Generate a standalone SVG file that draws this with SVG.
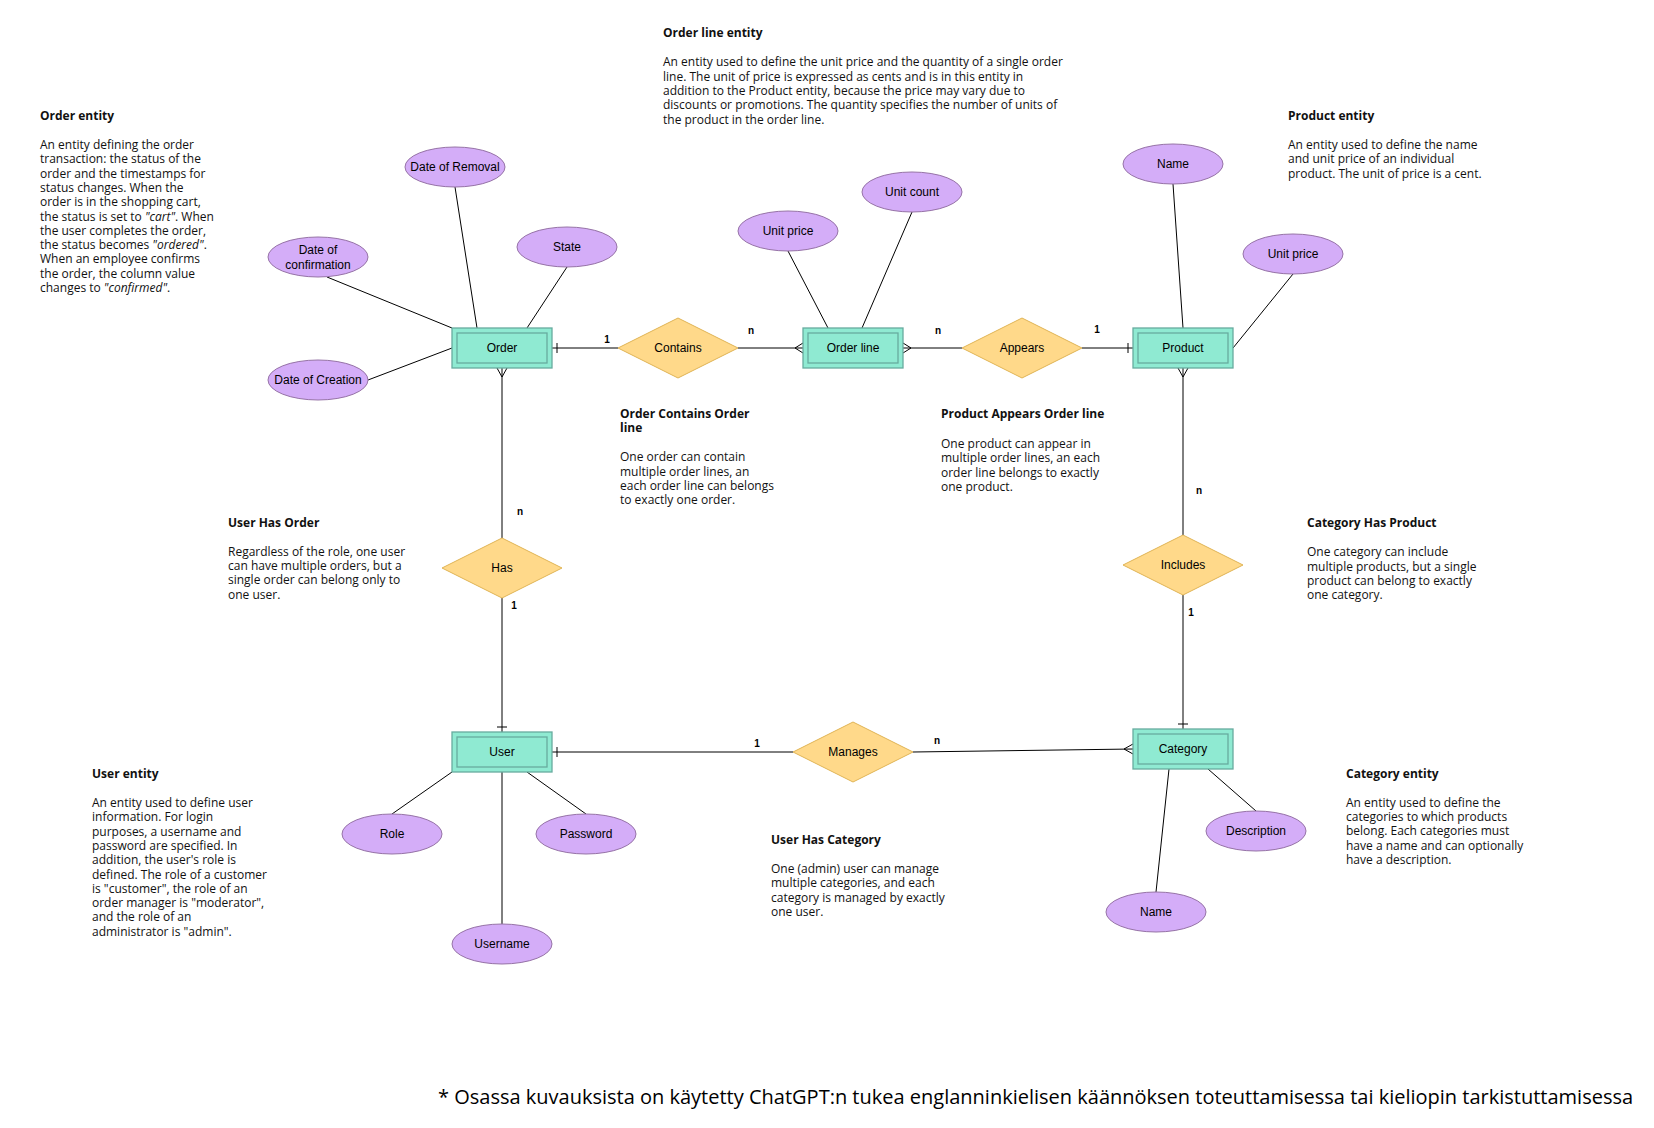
<svg xmlns="http://www.w3.org/2000/svg" width="1654" height="1128" viewBox="0 0 1654 1128">
<style>
.ent{fill:#8fead2;stroke:#67ab9f;stroke-width:1.3}
.att{fill:#d4adf8;stroke:#9673a6;stroke-width:1}
.rel{fill:#ffd98a;stroke:#e0b455;stroke-width:1}
.lbl{font-family:"Liberation Sans",Arial,sans-serif;font-size:12px;fill:#000;text-anchor:middle}
.card{font-family:"Liberation Sans",Arial,sans-serif;font-size:10px;font-weight:bold;fill:#000;text-anchor:middle}
.p{font-family:"Open Sans","Noto Sans",sans-serif;font-size:12px;fill:#111}
.t{font-weight:bold}
.i{font-style:italic}
#connectors line,#connectors path{stroke:#000;stroke-width:1;fill:none}
</style>
<rect width="1654" height="1128" fill="#fff"/>
<g id="connectors">
<!-- attribute links -->
<line x1="455" y1="187" x2="477" y2="328"/>
<line x1="327" y1="277" x2="452" y2="328"/>
<line x1="368" y1="380" x2="452" y2="348"/>
<line x1="567" y1="267" x2="527" y2="328"/>
<line x1="788" y1="251" x2="828" y2="328"/>
<line x1="912" y1="212" x2="862" y2="328"/>
<line x1="1173" y1="184" x2="1183" y2="328"/>
<line x1="1293" y1="274" x2="1233" y2="348"/>
<line x1="392" y1="814" x2="452" y2="772"/>
<line x1="527" y1="772" x2="586" y2="814"/>
<line x1="502" y1="772" x2="502" y2="924"/>
<line x1="1208" y1="769" x2="1256" y2="811"/>
<line x1="1169" y1="769" x2="1156" y2="892"/>
<!-- relationships -->
<line x1="552" y1="348" x2="618" y2="348"/>
<line x1="557" y1="343" x2="557" y2="353"/>
<line x1="738" y1="348" x2="803" y2="348"/>
<path d="M803,343 L795,348 L803,353"/>
<line x1="903" y1="348" x2="962" y2="348"/>
<path d="M903,343 L911,348 L903,353"/>
<line x1="1082" y1="348" x2="1133" y2="348"/>
<line x1="1128" y1="343" x2="1128" y2="353"/>
<line x1="502" y1="368" x2="502" y2="538"/>
<path d="M497,368 L502,377 L507,368"/>
<line x1="502" y1="598" x2="502" y2="732"/>
<line x1="497" y1="727" x2="507" y2="727"/>
<line x1="1183" y1="368" x2="1183" y2="535"/>
<path d="M1178,368 L1183,377 L1188,368"/>
<line x1="1183" y1="595" x2="1183" y2="729"/>
<line x1="1178" y1="724" x2="1188" y2="724"/>
<line x1="552" y1="752" x2="793" y2="752"/>
<line x1="557" y1="747" x2="557" y2="757"/>
<line x1="913" y1="752" x2="1133" y2="749"/>
<path d="M1133,744 L1124,749 L1133,754"/>
<!-- cardinalities -->
<text class="card" x="607" y="343">1</text>
<text class="card" x="751" y="334">n</text>
<text class="card" x="938" y="334">n</text>
<text class="card" x="1097" y="333">1</text>
<text class="card" x="520" y="515">n</text>
<text class="card" x="514" y="609">1</text>
<text class="card" x="1199" y="494">n</text>
<text class="card" x="1191" y="616">1</text>
<text class="card" x="757" y="747">1</text>
<text class="card" x="937" y="744">n</text>
</g>
<!-- entities -->
<g id="order"><rect class="ent" x="452" y="328" width="100" height="40"/><rect class="ent" x="457" y="333" width="90" height="30"/><text class="lbl" x="502" y="352">Order</text></g>
<g id="orderline"><rect class="ent" x="803" y="328" width="100" height="40"/><rect class="ent" x="808" y="333" width="90" height="30"/><text class="lbl" x="853" y="352">Order line</text></g>
<g id="product"><rect class="ent" x="1133" y="328" width="100" height="40"/><rect class="ent" x="1138" y="333" width="90" height="30"/><text class="lbl" x="1183" y="352">Product</text></g>
<g id="user"><rect class="ent" x="452" y="732" width="100" height="40"/><rect class="ent" x="457" y="737" width="90" height="30"/><text class="lbl" x="502" y="756">User</text></g>
<g id="category"><rect class="ent" x="1133" y="729" width="100" height="40"/><rect class="ent" x="1138" y="734" width="90" height="30"/><text class="lbl" x="1183" y="753">Category</text></g>
<!-- relationships -->
<g id="contains"><polygon class="rel" points="618,348 678,318 738,348 678,378"/><text class="lbl" x="678" y="352">Contains</text></g>
<g id="appears"><polygon class="rel" points="962,348 1022,318 1082,348 1022,378"/><text class="lbl" x="1022" y="352">Appears</text></g>
<g id="has"><polygon class="rel" points="442,568 502,538 562,568 502,598"/><text class="lbl" x="502" y="572">Has</text></g>
<g id="includes"><polygon class="rel" points="1123,565 1183,535 1243,565 1183,595"/><text class="lbl" x="1183" y="569">Includes</text></g>
<g id="manages"><polygon class="rel" points="793,752 853,722 913,752 853,782"/><text class="lbl" x="853" y="756">Manages</text></g>
<!-- attributes -->
<g id="att-removal"><ellipse class="att" cx="455" cy="167" rx="50" ry="20"/><text class="lbl" x="455" y="171">Date of Removal</text></g>
<g id="att-confirmation"><ellipse class="att" cx="318" cy="257" rx="50" ry="20"/><text class="lbl" x="318" y="253.5">Date of</text><text class="lbl" x="318" y="269">confirmation</text></g>
<g id="att-state"><ellipse class="att" cx="567" cy="247" rx="50" ry="20"/><text class="lbl" x="567" y="251">State</text></g>
<g id="att-creation"><ellipse class="att" cx="318" cy="380" rx="50" ry="20"/><text class="lbl" x="318" y="384">Date of Creation</text></g>
<g id="att-ol-unitprice"><ellipse class="att" cx="788" cy="231" rx="50" ry="20"/><text class="lbl" x="788" y="235">Unit price</text></g>
<g id="att-unitcount"><ellipse class="att" cx="912" cy="192" rx="50" ry="20"/><text class="lbl" x="912" y="196">Unit count</text></g>
<g id="att-p-name"><ellipse class="att" cx="1173" cy="164" rx="50" ry="20"/><text class="lbl" x="1173" y="168">Name</text></g>
<g id="att-p-unitprice"><ellipse class="att" cx="1293" cy="254" rx="50" ry="20"/><text class="lbl" x="1293" y="258">Unit price</text></g>
<g id="att-role"><ellipse class="att" cx="392" cy="834" rx="50" ry="20"/><text class="lbl" x="392" y="838">Role</text></g>
<g id="att-password"><ellipse class="att" cx="586" cy="834" rx="50" ry="20"/><text class="lbl" x="586" y="838">Password</text></g>
<g id="att-username"><ellipse class="att" cx="502" cy="944" rx="50" ry="20"/><text class="lbl" x="502" y="948">Username</text></g>
<g id="att-description"><ellipse class="att" cx="1256" cy="831" rx="50" ry="20"/><text class="lbl" x="1256" y="835">Description</text></g>
<g id="att-c-name"><ellipse class="att" cx="1156" cy="912" rx="50" ry="20"/><text class="lbl" x="1156" y="916">Name</text></g>
<!-- annotations -->
<g id="note-order">
<text class="p t" x="40" y="120">Order entity</text>
<text class="p" x="40" y="149">
<tspan x="40" y="149">An entity defining the order</tspan>
<tspan x="40" dy="14.3">transaction: the status of the</tspan>
<tspan x="40" dy="14.3">order and the timestamps for</tspan>
<tspan x="40" dy="14.3">status changes. When the</tspan>
<tspan x="40" dy="14.3">order is in the shopping cart,</tspan>
<tspan x="40" dy="14.3">the status is set to <tspan class="i">"cart"</tspan>. When</tspan>
<tspan x="40" dy="14.3">the user completes the order,</tspan>
<tspan x="40" dy="14.3">the status becomes <tspan class="i">"ordered"</tspan>.</tspan>
<tspan x="40" dy="14.3">When an employee confirms</tspan>
<tspan x="40" dy="14.3">the order, the column value</tspan>
<tspan x="40" dy="14.3">changes to <tspan class="i">"confirmed"</tspan>.</tspan>
</text>
</g>
<g id="note-orderline">
<text class="p t" x="663" y="37.3">Order line entity</text>
<text class="p">
<tspan x="663" y="66.3">An entity used to define the unit price and the quantity of a single order</tspan>
<tspan x="663" dy="14.3">line. The unit of price is expressed as cents and is in this entity in</tspan>
<tspan x="663" dy="14.3">addition to the Product entity, because the price may vary due to</tspan>
<tspan x="663" dy="14.3">discounts or promotions. The quantity specifies the number of units of</tspan>
<tspan x="663" dy="14.3">the product in the order line.</tspan>
</text>
</g>
<g id="note-product">
<text class="p t" x="1288" y="120">Product entity</text>
<text class="p">
<tspan x="1288" y="149">An entity used to define the name</tspan>
<tspan x="1288" dy="14.3">and unit price of an individual</tspan>
<tspan x="1288" dy="14.3">product. The unit of price is a cent.</tspan>
</text>
</g>
<g id="note-contains">
<text class="p t"><tspan x="620" y="418">Order Contains Order</tspan><tspan x="620" dy="14">line</tspan></text>
<text class="p">
<tspan x="620" y="461.3">One order can contain</tspan>
<tspan x="620" dy="14.3">multiple order lines, an</tspan>
<tspan x="620" dy="14.3">each order line can belongs</tspan>
<tspan x="620" dy="14.3">to exactly one order.</tspan>
</text>
</g>
<g id="note-appears">
<text class="p t" x="941" y="418.3">Product Appears Order line</text>
<text class="p">
<tspan x="941" y="448">One product can appear in</tspan>
<tspan x="941" dy="14.3">multiple order lines, an each</tspan>
<tspan x="941" dy="14.3">order line belongs to exactly</tspan>
<tspan x="941" dy="14.3">one product.</tspan>
</text>
</g>
<g id="note-has">
<text class="p t" x="228" y="526.7">User Has Order</text>
<text class="p">
<tspan x="228" y="555.7">Regardless of the role, one user</tspan>
<tspan x="228" dy="14.3">can have multiple orders, but a</tspan>
<tspan x="228" dy="14.3">single order can belong only to</tspan>
<tspan x="228" dy="14.3">one user.</tspan>
</text>
</g>
<g id="note-includes">
<text class="p t" x="1307" y="526.7">Category Has Product</text>
<text class="p">
<tspan x="1307" y="556.3">One category can include</tspan>
<tspan x="1307" dy="14.3">multiple products, but a single</tspan>
<tspan x="1307" dy="14.3">product can belong to exactly</tspan>
<tspan x="1307" dy="14.3">one category.</tspan>
</text>
</g>
<g id="note-user">
<text class="p t" x="92" y="778">User entity</text>
<text class="p">
<tspan x="92" y="807">An entity used to define user</tspan>
<tspan x="92" dy="14.3">information. For login</tspan>
<tspan x="92" dy="14.3">purposes, a username and</tspan>
<tspan x="92" dy="14.3">password are specified. In</tspan>
<tspan x="92" dy="14.3">addition, the user's role is</tspan>
<tspan x="92" dy="14.3">defined. The role of a customer</tspan>
<tspan x="92" dy="14.3">is "customer", the role of an</tspan>
<tspan x="92" dy="14.3">order manager is "moderator",</tspan>
<tspan x="92" dy="14.3">and the role of an</tspan>
<tspan x="92" dy="14.3">administrator is "admin".</tspan>
</text>
</g>
<g id="note-manages">
<text class="p t" x="771" y="844">User Has Category</text>
<text class="p">
<tspan x="771" y="873">One (admin) user can manage</tspan>
<tspan x="771" dy="14.3">multiple categories, and each</tspan>
<tspan x="771" dy="14.3">category is managed by exactly</tspan>
<tspan x="771" dy="14.3">one user.</tspan>
</text>
</g>
<g id="note-category">
<text class="p t" x="1346" y="778">Category entity</text>
<text class="p">
<tspan x="1346" y="806.7">An entity used to define the</tspan>
<tspan x="1346" dy="14.3">categories to which products</tspan>
<tspan x="1346" dy="14.3">belong. Each categories must</tspan>
<tspan x="1346" dy="14.3">have a name and can optionally</tspan>
<tspan x="1346" dy="14.3">have a description.</tspan>
</text>
</g>
<g id="footer">
<text class="p" x="438" y="1104" style="font-size:20px;fill:#000">* Osassa kuvauksista on käytetty ChatGPT:n tukea englanninkielisen käännöksen toteuttamisessa tai kieliopin tarkistuttamisessa</text>
</g>
</svg>
